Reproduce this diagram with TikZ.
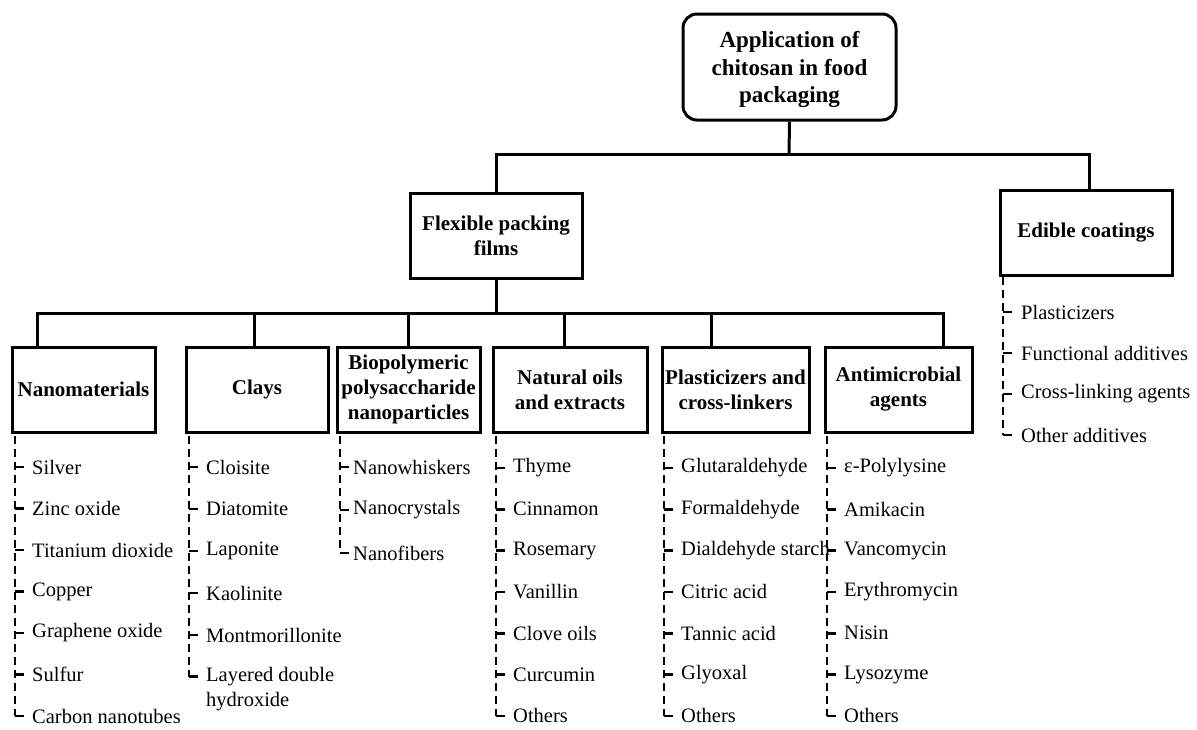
\documentclass[tikz,border=0pt]{standalone}
\usepackage{fontspec}
\setmainfont{Liberation Serif}
\begin{document}
\begin{tikzpicture}[x=1pt,y=-1pt,
  box/.style={draw, line width=3pt, align=center, inner sep=2pt,
    font=\bfseries\fontsize{21}{25}\selectfont},
  conn/.style={line width=3pt},
  dline/.style={line width=2.6pt, dash pattern=on 8pt off 5pt},
  tickline/.style={line width=2.6pt},
  item/.style={anchor=west, inner sep=0pt, align=left,
    font=\fontsize{20.5}{25}\selectfont}]
\useasboundingbox (0,0) rectangle (1197,729);

% top levels
\node[box, rounded corners=14pt, minimum width=213pt, minimum height=106pt,
  font=\bfseries\fontsize{23}{27.5}\selectfont] (root) at (789.5,67)
  {\rule{0pt}{22pt}Application of\\chitosan in food\\packaging};
\node[box, minimum width=172pt, minimum height=85pt] (flex) at (496,235.5)
  {Flexible packing\\films};
\node[box, minimum width=172pt, minimum height=85pt] (edible) at (1086,232.5)
  {Edible coatings};

% second level
\node[box, minimum width=143pt, minimum height=85pt] (nano) at (83.5,389.5) {Nanomaterials};
\node[box, minimum width=142pt, minimum height=85pt] (clays) at (257,389.5) {Clays};
\node[box, minimum width=143pt, minimum height=85pt] (bio) at (408.5,389.5)
  {Biopolymeric\\polysaccharide\\nanoparticles};
\node[box, minimum width=154pt, minimum height=85pt] (nat) at (570,389.5)
  {Natural oils\\and extracts};
\node[box, minimum width=147pt, minimum height=85pt] (plast) at (735.5,389.5)
  {Plasticizers and\\cross-linkers};
\node[box, minimum width=147pt, minimum height=85pt] (anti) at (898.5,389.5)
  {Antimicrobial\\agents};

% connectors
\coordinate (bus1) at (789,154);
\coordinate (bus2) at (496,313);
\draw[conn] (root.south) -- (bus1);
\draw[conn] (flex.north) |- (bus1) -| ([xshift=3pt]edible.north);
\draw[conn] (flex.south) -- (bus2);
\draw[conn] ([xshift=-46.5pt]nano.north) |- (bus2) -| ([xshift=44.5pt]anti.north);
\draw[conn] ([xshift=-3pt]clays.north) -- ++(0,-34);
\draw[conn] ([xshift=-0.5pt]bio.north) -- ++(0,-34);
\draw[conn] ([xshift=-6pt]nat.north) -- ++(0,-34);
\draw[conn] ([xshift=-24.5pt]plast.north) -- ++(0,-34);

% Nanomaterials items
\foreach \t [count=\i] in {Silver, Zinc oxide, Titanium dioxide, Copper,
  Graphene oxide, Sulfur, Carbon nanotubes} {
  \node[item] (nano-\i) at (32,{467+41.5*(\i-1)}) {\t};
  \draw[tickline] (nano-\i.west) ++(-17,0) -- ++(9,0);
}
\coordinate (nanoL) at (15,436);
\draw[dline] (nanoL) -- (nanoL |- nano-7.west);

% Clays items
\foreach \t [count=\i] in {Cloisite, Diatomite, Laponite, Kaolinite, Montmorillonite} {
  \node[item] (clay-\i) at (206,{467+42*(\i-1)}) {\t};
  \draw[tickline] (clay-\i.west) ++(-17,0) -- ++(9,0);
}
\node[item] (clay-6) at (206,689) {Layered double\\hydroxide};
\coordinate (clayL) at (189,436);
\coordinate (clay6t) at (189,676.5);
\draw[tickline] (clay6t) -- ++(9,0);
\draw[dline] (clayL) -- (clay6t);

% Biopolymeric items
\foreach \t [count=\i] in {Nanowhiskers, Nanocrystals, Nanofibers} {
  \node[item] (bio-\i) at (353,{467+43*(\i-1)}) {\t};
  \draw[tickline] (bio-\i.west) ++(-13,0) -- ++(9,0);
}
\coordinate (bioL) at (340,436);
\draw[dline] (bioL) -- (bioL |- bio-3.west);

% Natural oils items
\foreach \t [count=\i] in {Thyme, Cinnamon, Rosemary, Vanillin, Clove oils, Curcumin, Others} {
  \node[item] (nat-\i) at (513,{468+41.3*(\i-1)}) {\t};
  \draw[tickline] (nat-\i.west) ++(-17,0) -- ++(9,0);
}
\coordinate (natL) at (496,436);
\draw[dline] (natL) -- (natL |- nat-7.west);

% Plasticizers items
\foreach \t [count=\i] in {Glutaraldehyde, Formaldehyde, Dialdehyde starch, Citric acid,
  Tannic acid, Glyoxal, Others} {
  \node[item] (pl-\i) at (681,{468+41.3*(\i-1)}) {\t};
  \draw[tickline] (pl-\i.west) ++(-17,0) -- ++(9,0);
}
\coordinate (plL) at (664,436);
\draw[dline] (plL) -- (plL |- pl-7.west);

% Antimicrobial items
\foreach \t [count=\i] in {ε-Polylysine, Amikacin, Vancomycin, Erythromycin,
  Nisin, Lysozyme, Others} {
  \node[item] (an-\i) at (844,{468+41.3*(\i-1)}) {\t};
  \draw[tickline] (an-\i.west) ++(-17,0) -- ++(9,0);
}
\coordinate (anL) at (827,436);
\draw[dline] (anL) -- (anL |- an-7.west);

% Edible coatings items
\foreach \t [count=\i] in {Plasticizers, Functional additives, Cross-linking agents,
  Other additives} {
  \node[item] (ed-\i) at (1021,{312+41*(\i-1)}) {\t};
  \draw[tickline] (ed-\i.west) ++(-18,0) -- ++(9,0);
}
\coordinate (edL) at (1003,277);
\draw[dline] (edL) -- (edL |- ed-4.west);
\end{tikzpicture}
\end{document}
